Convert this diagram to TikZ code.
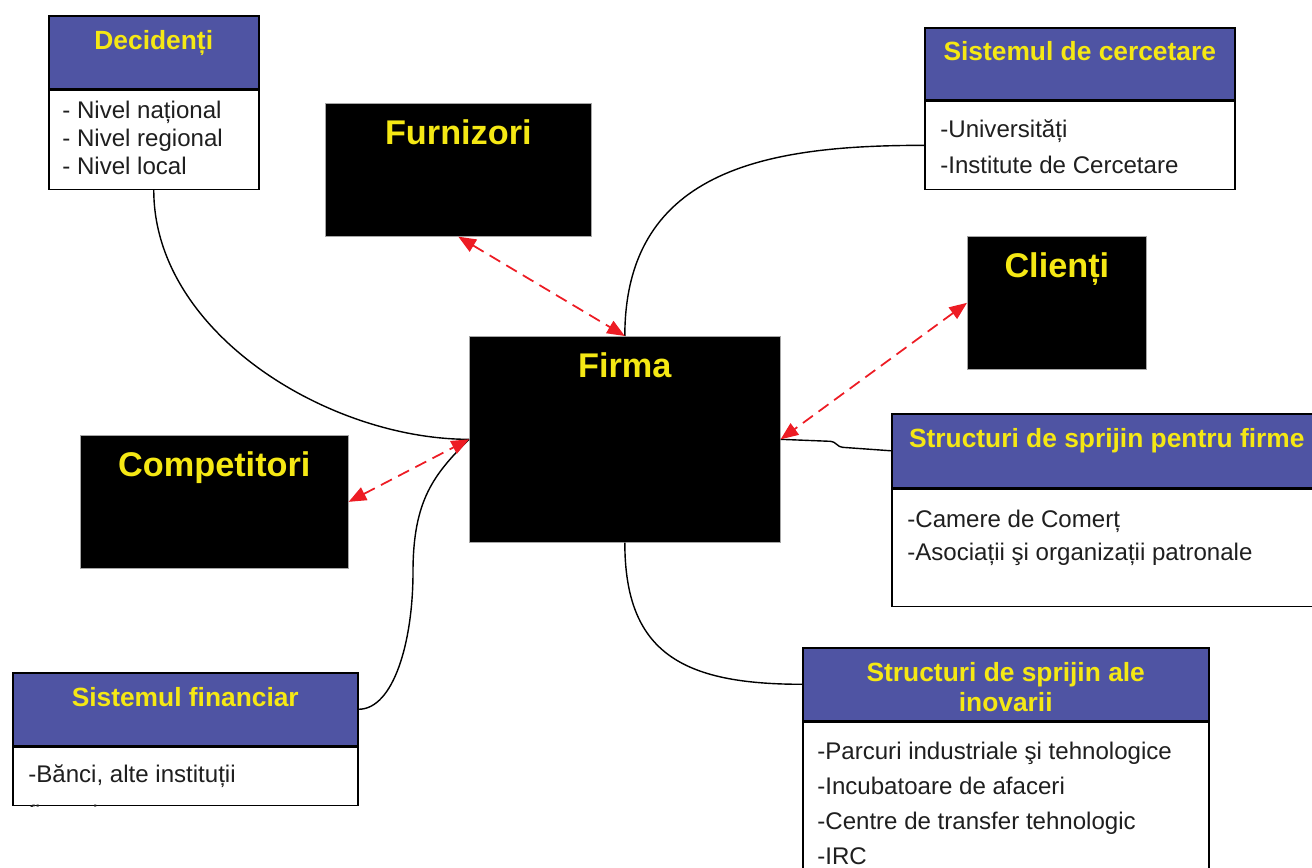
\documentclass[tikz,border=0pt]{standalone}
\usepackage{fontspec}
\setmainfont{Liberation Sans}
\usetikzlibrary{positioning, arrows.meta}
\definecolor{hdrblue}{RGB}{79,84,163}
\definecolor{titleyellow}{RGB}{245,232,20}
\definecolor{flowred}{RGB}{237,28,36}
\tikzset{
  actor/.style={draw=gray!70, fill=black, anchor=north west, inner sep=0, minimum height=2.66cm},
  actortitle/.style={text=titleyellow, font=\fontsize{19.5}{22}\selectfont\bfseries, inner sep=0},
  hdr/.style={draw=black, line width=0.9pt, fill=hdrblue, anchor=north west, inner sep=0, minimum height=1.46cm},
  hdrtitle/.style={text=titleyellow, font=\fontsize{15}{17}\selectfont\bfseries, inner sep=0, align=center},
  body/.style={draw=black, line width=0.9pt, fill=white, inner sep=0},
  items/.style={inner sep=0, align=left, text=black!88, font=\fontsize{13.7}{19.5}\selectfont},
  link/.style={line width=0.8pt},
  flow/.style={flowred, line width=1pt, dash pattern=on 7pt off 4pt,
    {Triangle[length=10pt,width=8pt]}-{Triangle[length=10pt,width=8pt]}},
}

\begin{document}
\begin{tikzpicture}[x=0.02cm, y=-0.02cm]
  \useasboundingbox (0,0) rectangle (1312,868);

  % actors
  \node[actor, minimum width=6.22cm, minimum height=4.12cm] (firma) at (469,336) {};
  \node[actortitle, below=0.32cm of firma.north] (firmaT) {Firma};
  \node[actor, minimum width=5.32cm] (furn) at (325,103) {};
  \node[actortitle, below=0.32cm of furn.north] (furnT) {Furnizori};
  \node[actor, minimum width=3.58cm] (clienti) at (967,236) {};
  \node[actortitle, below=0.32cm of clienti.north] (clientiT) {Clienți};
  \node[actor, minimum width=5.36cm] (comp) at (80,435) {};
  \node[actortitle, below=0.32cm of comp.north] (compT) {Competitori};

  % decidenti
  \node[hdr, minimum width=4.2cm] (dhead) at (48,15) {};
  \node[hdrtitle, below=0.3cm of dhead.north] (dtitle) {Decidenți};
  \node[body, minimum width=4.2cm, minimum height=1.98cm, below=0pt of dhead] (dbody) {};
  \node[items, font=\fontsize{13.7}{16}\selectfont, below right=0.22cm and 0.28cm of dbody.north west] (dlist)
    {- Nivel național\\- Nivel regional\\- Nivel local};

  % sistemul de cercetare
  \node[hdr, minimum width=6.2cm, minimum height=1.44cm] (chead) at (924,27) {};
  \node[hdrtitle, below=0.28cm of chead.north] (ctitle) {Sistemul de cercetare};
  \node[body, minimum width=6.2cm, minimum height=1.76cm, below=0pt of chead] (cbody) {};
  \node[items, font=\fontsize{13.7}{20.5}\selectfont, below right=0.38cm and 0.32cm of cbody.north west] (clist)
    {-Universități\\-Institute de Cercetare};

  % structuri pentru firme
  \node[hdr, minimum width=8.6cm, minimum height=1.48cm] (fhead) at (891,413) {};
  \node[hdrtitle, below=0.3cm of fhead.north] (ftitle) {Structuri de sprijin pentru firme};
  \node[body, minimum width=8.6cm, minimum height=2.34cm, below=0pt of fhead] (fbody) {};
  \node[items, font=\fontsize{13.7}{19}\selectfont, below right=0.42cm and 0.32cm of fbody.north west] (flist)
    {-Camere de Comerț\\-Asociații şi organizații patronale};

  % structuri ale inovarii
  \node[hdr, minimum width=8.12cm] (ihead) at (802,647) {};
  \node[hdrtitle, below=0.3cm of ihead.north] (ititle) {Structuri de sprijin ale\\inovarii};
  \node[body, minimum width=8.12cm, minimum height=3.6cm, below=0pt of ihead] (ibody) {};
  \node[items, font=\fontsize{13.7}{20}\selectfont, below right=0.4cm and 0.3cm of ibody.north west] (ilist)
    {-Parcuri industriale şi tehnologice\\-Incubatoare de afaceri\\-Centre de transfer tehnologic\\-IRC};

  % sistemul financiar
  \node[hdr, minimum width=6.9cm] (nhead) at (12,672) {};
  \node[hdrtitle, below=0.3cm of nhead.north] (ntitle) {Sistemul financiar};
  \node[body, minimum width=6.9cm, minimum height=1.16cm, below=0pt of nhead] (nbody) {};
  \begin{scope}
    \clip (nbody.north west) rectangle (nbody.south east);
    \node[items, font=\fontsize{13.7}{22.5}\selectfont, below right=0.36cm and 0.32cm of nbody.north west] (nlist)
      {-Bănci, alte instituții\\financiare};
  \end{scope}

  % links
  \coordinate (nbend) at (413,572);
  \draw[link] (dbody.south) .. controls +(0,143) and +(-140,0) .. (firma.west);
  \draw[link] (cbody.west) .. controls +(-150,0) and +(0,-170) .. (firma.north);
  \draw[link] (firma.east) -- ++(50,2) .. controls +(5,0) and +(-5,0) .. ++(12,6) -- (fhead.west);
  \draw[link] (firma.south) .. controls +(0,110) and +(-120,0) .. (ihead.west);
  \draw[link] (nhead.east) .. controls +(35,0) and +(0,70) .. (nbend)
    .. controls +(0,-72) and +(-35,35) .. (firma.west);

  % flows
  \draw[flow] (furn.south) -- (firma.north);
  \draw[flow] (clienti.west) -- (firma.east);
  \draw[flow] (comp.east) -- (firma.west);
\end{tikzpicture}
\end{document}
